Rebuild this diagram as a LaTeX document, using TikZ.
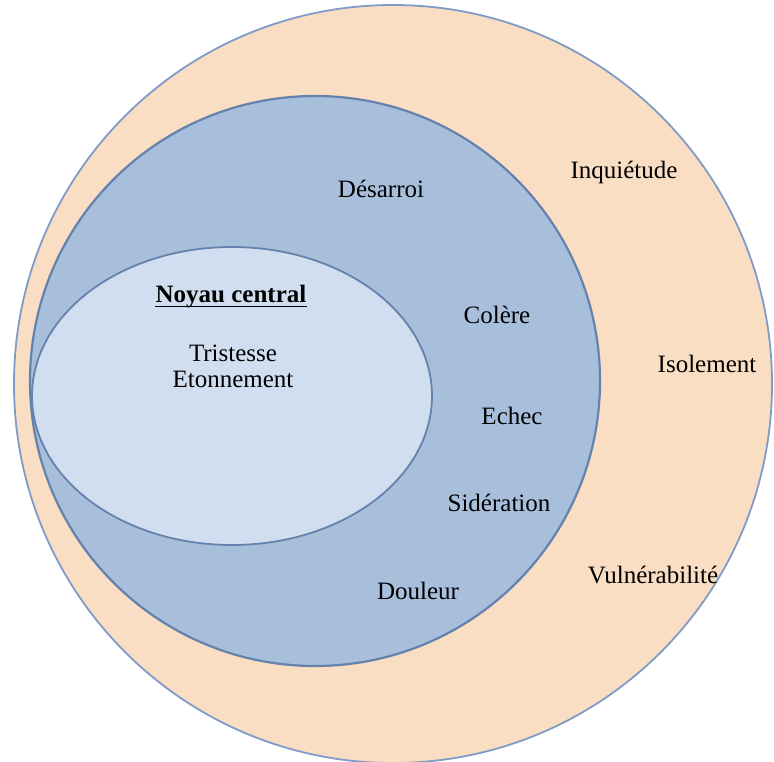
\documentclass[tikz,border=0pt]{standalone}
\usepackage{fontspec}
\setmainfont{Liberation Serif}
\definecolor{peach}{HTML}{F9DEC3}
\definecolor{midblue}{HTML}{A8BFDC}
\definecolor{lightblue}{HTML}{D1DEF0}
\definecolor{edgeblue}{HTML}{7F9CC6}
\definecolor{darkedge}{HTML}{6482AD}
\begin{document}
\begin{tikzpicture}[x=1pt,y=-1pt,
  lbl/.style={font=\fontsize{25}{29}\selectfont, text=black, inner sep=0pt, align=center}]
\useasboundingbox (0,0) rectangle (774,762);
\fill[white] (0,0) rectangle (774,762);
\draw[edgeblue, fill=peach, line width=1.8pt] (393,384) circle (379);
\draw[darkedge, fill=midblue, line width=2.2pt] (315,381) circle (285);
\draw[darkedge, fill=lightblue, line width=1.8pt] (232,396) ellipse (200 and 149);
\node[lbl] (desarroi) at (381,189) {Désarroi};
\node[lbl] (inquietude) at (624,172) {Inquiétude};
\node[lbl, font=\fontsize{25}{29}\selectfont\bfseries] (noyau) at (231,297) {Noyau central};
\draw[black, line width=1.6pt] ([yshift=-3.5pt]noyau.base west) -- ([yshift=-3.5pt]noyau.base east);
\node[lbl] (colere) at (497,315) {Colère};
\node[lbl] (tristesse) at (233,353) {Tristesse};
\node[lbl] (etonnement) at (233,379) {Etonnement};
\node[lbl] (isolement) at (707,364) {Isolement};
\node[lbl] (echec) at (512,416) {Echec};
\node[lbl] (sideration) at (499,503) {Sidération};
\node[lbl] (vulnerabilite) at (653,575) {Vulnérabilité};
\node[lbl] (douleur) at (418,591) {Douleur};
\end{tikzpicture}
\end{document}
